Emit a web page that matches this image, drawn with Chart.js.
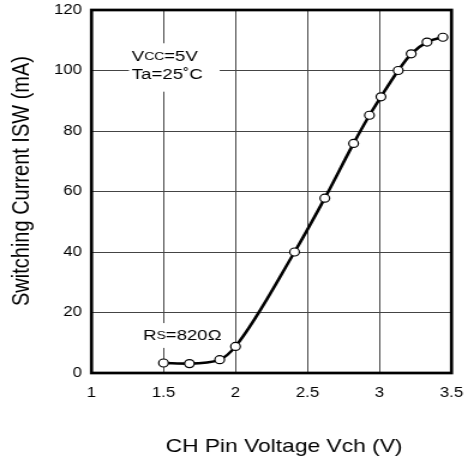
<!DOCTYPE html>
<html>
<head>
<meta charset="utf-8">
<script src="https://cdn.jsdelivr.net/npm/chart.js@4"></script>
<style>
  html, body { margin: 0; padding: 0; background: #fff; overflow: hidden; }
  /* the source picture is stretched sideways, so the canvas is too */
  #wrap { width: 388px; height: 467px; transform: scaleX(1.2); transform-origin: 0 0; }
</style>
</head>
<body>
<div id="wrap"><canvas id="chart" width="388" height="467"></canvas></div>
<script>
// data (Rs = 820 ohm)
const vch = [1.5, 1.68, 1.89, 2.0, 2.41, 2.62, 2.82, 2.93, 3.01, 3.13, 3.22, 3.33, 3.44];
const isw = [3.3, 3.1, 4.4, 8.8, 40, 57.8, 75.9, 85.2, 91.3, 100, 105.5, 109.4, 111];

const xTicks = [1, 1.5, 2, 2.5, 3, 3.5];
const yTicks = [0, 20, 40, 60, 80, 100, 120];

const xTitle = "CH Pin Voltage Vch (V)";
const yTitle = "Switching Current ISW (mA)";

const FONT = '"Liberation Sans", Arial, sans-serif';

// frame, notes and axis titles
const extras = {
  id: 'extras',
  beforeDatasetsDraw(chart) {
    const { ctx, chartArea: a, scales: { x, y } } = chart;
    ctx.save();

    // full box round the plot
    ctx.strokeStyle = '#000';
    ctx.lineWidth = 2.7;
    ctx.strokeRect(a.left, a.top, a.right - a.left, a.bottom - a.top);

    // note boxes (white, hide the grid behind them)
    ctx.fillStyle = '#fff';
    ctx.fillRect(x.getPixelForValue(1.26), y.getPixelForValue(109),
      x.getPixelForValue(1.89) - x.getPixelForValue(1.26), y.getPixelForValue(93) - y.getPixelForValue(109));
    ctx.fillRect(x.getPixelForValue(1.34), y.getPixelForValue(16.5),
      x.getPixelForValue(1.9) - x.getPixelForValue(1.34), y.getPixelForValue(8.3) - y.getPixelForValue(16.5));

    ctx.fillStyle = '#000';
    ctx.textBaseline = 'middle';
    ctx.textAlign = 'left';
    drawParts(ctx, x.getPixelForValue(1.28), y.getPixelForValue(104.6), [['V', 15.5], ['CC', 11.5], ['=5V', 15.5]]);
    drawParts(ctx, x.getPixelForValue(1.28), y.getPixelForValue(98.5), [['Ta=25˚C', 15.5]]);
    drawParts(ctx, x.getPixelForValue(1.358), y.getPixelForValue(12.2), [['R', 15.5], ['S', 11.5], ['=820Ω', 15.5]]);

    // axis titles
    ctx.textAlign = 'center';
    ctx.font = '19px ' + FONT;
    ctx.fillText(xTitle, 236.7, 446.5);
    ctx.translate(18.5, 181);
    ctx.rotate(-Math.PI / 2);
    ctx.font = '20px ' + FONT;
    ctx.fillText(yTitle, 0, 0);

    ctx.restore();
  }
};

function drawParts(ctx, px, py, parts) {
  parts.forEach(([t, size]) => {
    ctx.font = size + 'px ' + FONT;
    ctx.fillText(t, px, py);
    px += ctx.measureText(t).width;
  });
}

new Chart(document.getElementById('chart'), {
  type: 'scatter',
  data: {
    datasets: [{
      data: vch.map((v, i) => ({ x: v, y: isw[i] })),
      showLine: true,
      cubicInterpolationMode: 'monotone',
      borderColor: '#000',
      borderWidth: 2.6,
      pointRadius: 4,
      pointHoverRadius: 4,
      pointBackgroundColor: '#fff',
      pointBorderColor: '#000',
      pointBorderWidth: 1.2
    }]
  },
  options: {
    responsive: false,
    animation: false,
    events: [],
    layout: { padding: { top: 10, right: 11.75, left: 0, bottom: 0 } },
    plugins: { legend: { display: false }, tooltip: { enabled: false } },
    scales: {
      x: {
        type: 'linear',
        min: 1, max: 3.5,
        afterBuildTicks: s => { s.ticks = xTicks.map(v => ({ value: v })); },
        afterFit: s => { s.height = 94; s.paddingLeft = 0; s.paddingRight = 0; },
        ticks: { color: '#000', font: { size: 14, family: FONT }, padding: 12, maxRotation: 0, callback: v => String(v) },
        grid: { color: '#444', lineWidth: 1, drawTicks: false },
        border: { display: false }
      },
      y: {
        min: 0, max: 120,
        afterBuildTicks: s => { s.ticks = yTicks.map(v => ({ value: v })); },
        afterFit: s => { s.width = 76.25; s.paddingTop = 0; s.paddingBottom = 0; },
        ticks: { color: '#000', font: { size: 14, family: FONT }, padding: 8, callback: v => String(v) },
        grid: { color: '#444', lineWidth: 1, drawTicks: false },
        border: { display: false }
      }
    }
  },
  plugins: [extras]
});
</script>
</body>
</html>
